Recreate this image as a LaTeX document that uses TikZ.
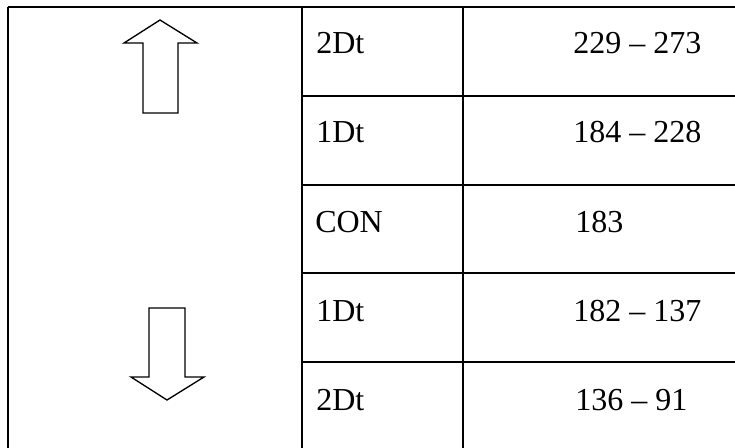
\documentclass[tikz,border=0pt]{standalone}
\usepackage{fontspec}
\setmainfont{Liberation Serif}
\usepackage{tikz}

\begin{document}
\begin{tikzpicture}[
    x=0.75pt, y=-0.75pt,
    every node/.style={font=\fontsize{24}{28}\selectfont, inner sep=0pt, anchor=base west},
    rule/.style={line width=1.6pt},
    hollow/.style={draw, fill=white, line width=1pt, line join=miter}
]
\clip (0,0) rectangle (735,447);
\useasboundingbox (0,0) rectangle (735,447);

% Tabla
\draw[rule] (8,7) -- (735,7);
\draw[rule] (8,7) -- (8,460);
\draw[rule] (302,7) -- (302,460);
\draw[rule] (463,7) -- (463,460);
\foreach \y in {96,185,273,362}
    \draw[rule] (302,\y) -- (735,\y);

% Textos (columna 2 y 3)
\node (lab1) at (316,53) {2Dt};
\node (val1) at (573,53) {229 -- 273};
\node (lab2) at (316,142) {1Dt};
\node (val2) at (573,142) {184 -- 228};
\node (lab3) at (315,232) {CON};
\node (val3) at (575,232) {183};
\node (lab4) at (316,321) {1Dt};
\node (val4) at (573,321) {182 -- 137};
\node (lab5) at (316,410) {2Dt};
\node (val5) at (575,410) {136 -- 91};

% Flechas huecas
\draw[hollow] (160,20) -- (197,43) -- (178,43) -- (178,113) -- (143,113) -- (143,43) -- (124,43) -- cycle;
\draw[hollow] (167,400) -- (204,377) -- (185,377) -- (185,308) -- (149,308) -- (149,377) -- (131,377) -- cycle;

\end{tikzpicture}
\end{document}
